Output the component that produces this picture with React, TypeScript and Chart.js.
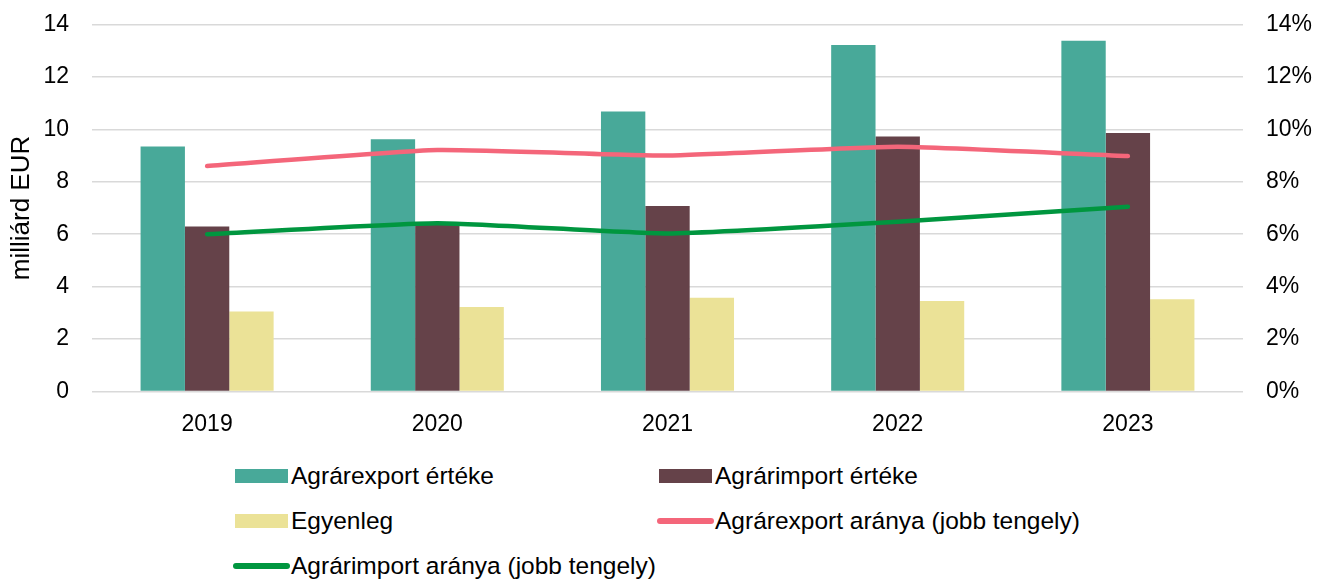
import React, { useEffect, useRef } from "react";
import { Chart, registerables } from "chart.js";

Chart.register(...registerables);

const years = ["2019", "2020", "2021", "2022", "2023"];
const exportValue = [9.35, 9.62, 10.68, 13.22, 13.38];
const importValue = [6.29, 6.39, 7.08, 9.73, 9.86];
const balanceValue = [3.05, 3.22, 3.58, 3.45, 3.52];
const exportShare = [8.6, 9.21, 9.0, 9.34, 8.98];
const importShare = [6.0, 6.42, 6.03, 6.48, 7.05];

const leftTicks = [0, 2, 4, 6, 8, 10, 12, 14];

const C_EXPORT = "#48A999";
const C_IMPORT = "#654249";
const C_BAL = "#EBE297";
const C_EXSHARE = "#F4667A";
const C_IMSHARE = "#00963F";

const FONT = "'Liberation Sans', Arial, Helvetica, sans-serif";

type LegendItem = { label: string; color: string; kind: "box" | "line"; x: number; y: number };
const legendItems: LegendItem[] = [
  { label: "Agrárexport értéke", color: C_EXPORT, kind: "box", x: 235, y: 476 },
  { label: "Agrárimport értéke", color: C_IMPORT, kind: "box", x: 659, y: 476 },
  { label: "Egyenleg", color: C_BAL, kind: "box", x: 235, y: 521 },
  { label: "Agrárexport aránya (jobb tengely)", color: C_EXSHARE, kind: "line", x: 659, y: 521 },
  { label: "Agrárimport aránya (jobb tengely)", color: C_IMSHARE, kind: "line", x: 235, y: 566 },
];

export default function App() {
  const ref = useRef<HTMLCanvasElement | null>(null);

  useEffect(() => {
    if (!ref.current) return;
    const fitY = (w: number) => (s: any) => {
      s.width = w;
      s.paddingTop = 0;
      s.paddingBottom = 0;
    };
    const chart = new Chart(ref.current, {
      type: "bar",
      data: {
        labels: years,
        datasets: [
          {
            type: "line",
            label: "Agrárexport aránya (jobb tengely)",
            data: exportShare,
            yAxisID: "y1",
            borderColor: C_EXSHARE,
            backgroundColor: C_EXSHARE,
            borderWidth: 4.5,
            pointRadius: 0,
            tension: 0.15,
            borderCapStyle: "round",
            order: 0,
          },
          {
            type: "line",
            label: "Agrárimport aránya (jobb tengely)",
            data: importShare,
            yAxisID: "y1",
            borderColor: C_IMSHARE,
            backgroundColor: C_IMSHARE,
            borderWidth: 4.5,
            pointRadius: 0,
            tension: 0.15,
            borderCapStyle: "round",
            order: 0,
          },
          {
            type: "bar",
            label: "Agrárexport értéke",
            data: exportValue,
            yAxisID: "y",
            backgroundColor: C_EXPORT,
            order: 1,
          },
          {
            type: "bar",
            label: "Agrárimport értéke",
            data: importValue,
            yAxisID: "y",
            backgroundColor: C_IMPORT,
            order: 1,
          },
          {
            type: "bar",
            label: "Egyenleg",
            data: balanceValue,
            yAxisID: "y",
            backgroundColor: C_BAL,
            order: 1,
          },
        ],
      },
      options: {
        animation: false,
        responsive: true,
        maintainAspectRatio: false,
        layout: { padding: { top: 24.5, left: 0, right: 0, bottom: 0 } },
        datasets: {
          bar: { categoryPercentage: 0.578, barPercentage: 1 },
        },
        plugins: {
          legend: { display: false },
          tooltip: { enabled: false },
        },
        scales: {
          x: {
            grid: { display: false },
            border: { display: false },
            ticks: { color: "#000", font: { family: FONT, size: 23 }, padding: 11 },
            afterFit: (s: any) => {
              s.height = 53.5;
              s.paddingLeft = 0;
              s.paddingRight = 0;
            },
          },
          y: {
            position: "left",
            min: 0,
            max: 14,
            afterBuildTicks: (s: any) => {
              s.ticks = leftTicks.map((v) => ({ value: v }));
            },
            grid: { color: "#D9D9D9", lineWidth: 1.5, drawTicks: false },
            border: { display: false },
            ticks: { color: "#000", font: { family: FONT, size: 23 }, padding: 23 },
            title: {
              display: true,
              text: "milliárd EUR",
              color: "#000",
              font: { family: FONT, size: 26 },
              padding: { top: 6, bottom: 0 },
            },
            afterFit: fitY(92),
          },
          y1: {
            position: "right",
            min: 0,
            max: 14,
            afterBuildTicks: (s: any) => {
              s.ticks = leftTicks.map((v) => ({ value: v }));
            },
            grid: { display: false, drawTicks: false },
            border: { display: false },
            ticks: {
              color: "#000",
              font: { family: FONT, size: 23 },
              padding: 23,
              callback: (v: any) => `${v}%`,
            },
            afterFit: fitY(83),
          },
        },
      },
    });
    return () => chart.destroy();
  }, []);

  return (
    <div style={{ position: "absolute", left: 0, top: 0, width: 1326, height: 579, background: "#fff", fontFamily: FONT }}>
      <div style={{ position: "absolute", left: 0, top: 0, width: 1326, height: 445 }}>
        <canvas ref={ref} />
      </div>
      {legendItems.map((it) => (
        <div key={it.label}>
          {it.kind === "box" ? (
            <div
              style={{
                position: "absolute",
                left: it.x,
                top: it.y - 7,
                width: 53,
                height: 14,
                background: it.color,
              }}
            />
          ) : (
            <div
              style={{
                position: "absolute",
                left: it.x - 2,
                top: it.y - 3,
                width: 57,
                height: 6,
                borderRadius: 3,
                background: it.color,
              }}
            />
          )}
          <div
            style={{
              position: "absolute",
              left: it.x + 56,
              top: it.y - 15,
              height: 30,
              lineHeight: "30px",
              fontSize: 24.5,
              color: "#000",
              whiteSpace: "nowrap",
            }}
          >
            {it.label}
          </div>
        </div>
      ))}
    </div>
  );
}
